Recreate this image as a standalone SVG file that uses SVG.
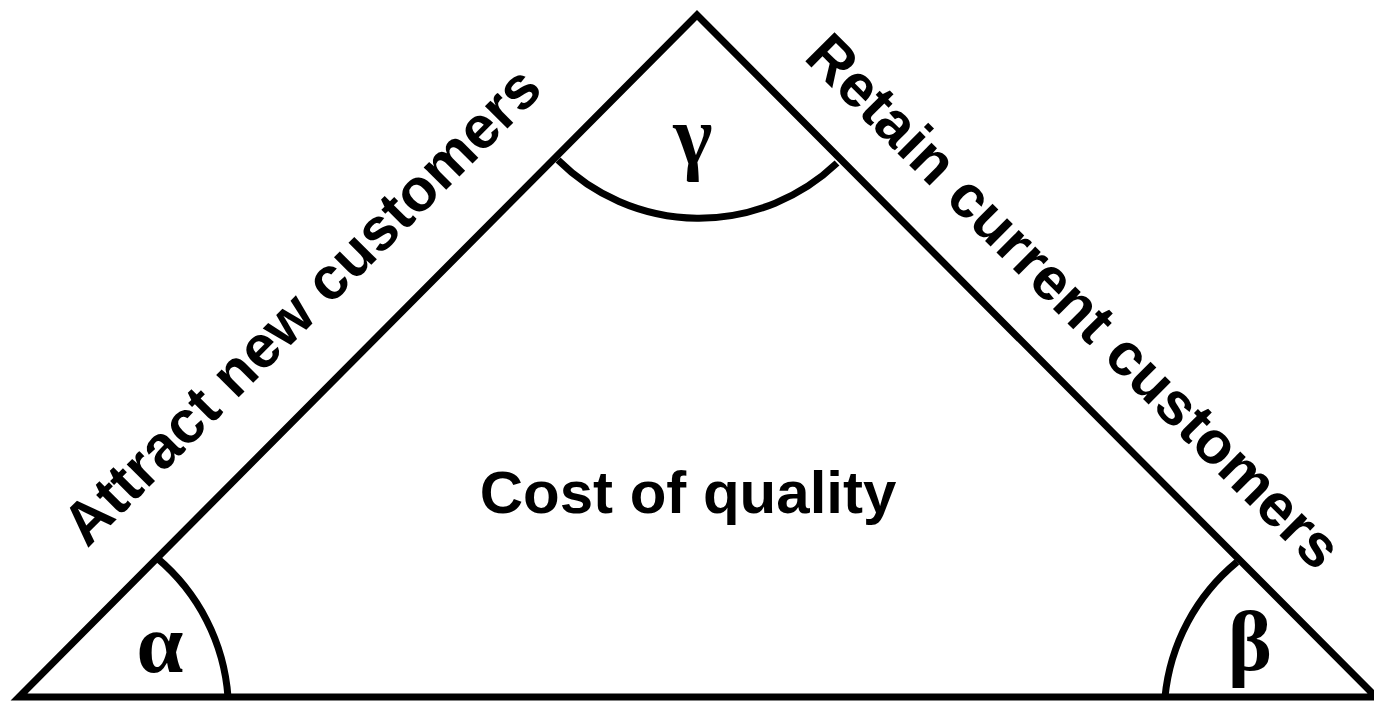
<svg xmlns="http://www.w3.org/2000/svg" width="1374" height="701" viewBox="0 0 1374 701">
  <style>
    .edge { fill: none; stroke: #000; stroke-width: 7; stroke-linejoin: miter; }
    .arc { fill: none; stroke: #000; stroke-width: 7; }
    .lbl { font-family: "Liberation Sans", Arial, sans-serif; font-weight: bold; font-size: 60px; fill: #000; text-anchor: middle; }
    .greek { font-family: "Liberation Serif", "Times New Roman", serif; font-weight: bold; font-size: 84px; fill: #000; text-anchor: middle; }
  </style>
  <rect width="1374" height="701" fill="#fff"/>
  <g id="triangle">
    <path class="edge" d="M 19 697 L 697 15 L 1376 697 Z"/>
  </g>
  <g id="angles">
    <path class="arc" d="M 157 558 A 200 200 0 0 1 228 697"/>
    <path class="arc" d="M 1165 697 A 200 200 0 0 1 1237 562"/>
    <path class="arc" d="M 558 160 A 200 200 0 0 0 837 163"/>
  </g>
  <g id="labels">
    <text class="lbl" x="316" y="320" transform="rotate(-45 316 320)">Attract new customers</text>
    <text class="lbl" x="1059.5" y="315.5" transform="rotate(45 1059.5 315.5)">Retain current customers</text>
    <text class="lbl" x="688" y="513">Cost of quality</text>
    <text class="greek" x="160" y="672">α</text>
    <text class="greek" x="1250" y="670">β</text>
    <text class="greek" x="693" y="164">γ</text>
  </g>
</svg>
